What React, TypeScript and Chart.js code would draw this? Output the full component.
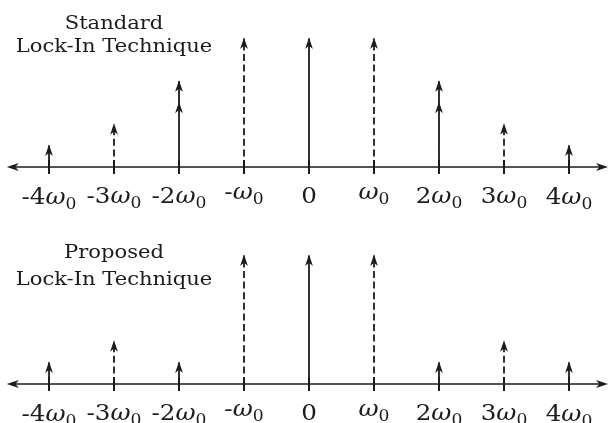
import { useEffect, useRef } from 'react';
import { Chart, registerables } from 'chart.js';

Chart.register(...registerables);

// Harmonic positions (multiples of ω0) and their axis labels
const frequencies = [-4, -3, -2, -1, 0, 1, 2, 3, 4];
const tickLabels = ['-4ω0', '-3ω0', '-2ω0', '-ω0', '0', 'ω0', '2ω0', '3ω0', '4ω0'];
// odd harmonics are drawn with dashed stems
const dashedHarmonic = [false, true, false, true, false, true, false, true, false];

// Impulse amplitudes, standard lock-in (±2ω0 carries two stacked components)
const standardAmplitudes = [1, 2, 4, 6, 6, 6, 4, 2, 1];
const standardInnerAmplitudes = [0, 0, 3, 0, 0, 0, 3, 0, 0];
// Impulse amplitudes, proposed lock-in
const proposedAmplitudes = [1, 2, 1, 6, 6, 6, 1, 2, 1];

const standardTitle = ['Standard', 'Lock-In Technique'];
const proposedTitle = ['Proposed', 'Lock-In Technique'];

const INK = '#1c1c1c';
const SERIF = '"DejaVu Serif", "Liberation Serif", serif';
const TITLE_STRETCH = 1.17;
const LABEL_STRETCH = 1.07;

type PanelSpec = {
  amplitudes: number[];
  innerAmplitudes?: number[];
  title: string[];
  titleBaselines: number[]; // pixels above the axis
  height: number;
  padTop: number;
  padBottom: number;
};

function stemPoints(amps: number[], dashed: boolean) {
  const pts: { x: number; y: number | null }[] = [];
  frequencies.forEach((f, i) => {
    if (dashedHarmonic[i] !== dashed || !amps[i]) return;
    pts.push({ x: f, y: 0 }, { x: f, y: amps[i] }, { x: f, y: null });
  });
  return pts;
}

function tipPoints(amps: number[]) {
  return frequencies
    .map((f, i) => ({ x: f, y: amps[i] }))
    .filter((p) => p.y > 0);
}

function arrowHead(ctx: CanvasRenderingContext2D, x: number, y: number, angle: number, len = 11.5, half = 3.9) {
  ctx.save();
  ctx.translate(x, y);
  ctx.rotate(angle);
  ctx.beginPath();
  ctx.moveTo(0, 0);
  ctx.lineTo(-len, -half);
  ctx.lineTo(-len * 0.72, 0);
  ctx.lineTo(-len, half);
  ctx.closePath();
  ctx.fill();
  ctx.restore();
}

function drawTickLabel(ctx: CanvasRenderingContext2D, label: string, cx: number, top: number) {
  const size = 23;
  const subSize = 16;
  const upright = `${size}px ${SERIF}`;
  const italic = `italic ${size}px ${SERIF}`;
  const subFont = `${subSize}px ${SERIF}`;
  const k = label.indexOf('ω');
  const prefix = k < 0 ? label : label.slice(0, k);
  const sub = k < 0 ? '' : label.slice(k + 1);

  ctx.font = upright;
  const wPre = prefix ? ctx.measureText(prefix).width : 0;
  let ascent = prefix && /[0-9]/.test(prefix) ? ctx.measureText(prefix).actualBoundingBoxAscent : 0;
  let wOm = 0;
  let wSub = 0;
  if (k >= 0) {
    ctx.font = italic;
    const mOm = ctx.measureText('ω');
    wOm = mOm.width;
    ascent = Math.max(ascent, mOm.actualBoundingBoxAscent);
    ctx.font = subFont;
    wSub = ctx.measureText(sub).width;
  }
  const total = (wPre + wOm + wSub) * LABEL_STRETCH;
  const baseline = top + ascent;

  ctx.save();
  ctx.translate(cx - total / 2, 0);
  ctx.scale(LABEL_STRETCH, 1);
  ctx.textAlign = 'left';
  ctx.textBaseline = 'alphabetic';
  ctx.fillStyle = INK;
  let x = 0;
  if (prefix) {
    ctx.font = upright;
    ctx.fillText(prefix, x, baseline);
    x += wPre;
  }
  if (k >= 0) {
    ctx.font = italic;
    ctx.fillText('ω', x, baseline);
    x += wOm;
    ctx.font = subFont;
    ctx.fillText(sub, x, baseline + 5);
  }
  ctx.restore();
}

function makePlugin(spec: PanelSpec) {
  return {
    id: 'spectrumDecor',
    beforeDatasetsDraw(chart: Chart) {
      const { ctx } = chart;
      const xs = chart.scales.x;
      const y0 = chart.scales.y.getPixelForValue(0);
      ctx.save();
      ctx.strokeStyle = INK;
      ctx.fillStyle = INK;
      ctx.lineWidth = 1.7;
      const left = xs.getPixelForValue(-4.65);
      const right = xs.getPixelForValue(4.6);
      ctx.beginPath();
      ctx.moveTo(left + 4, y0);
      ctx.lineTo(right - 4, y0);
      ctx.stroke();
      arrowHead(ctx, left, y0, Math.PI, 12, 4);
      arrowHead(ctx, right, y0, 0, 12, 4);
      ctx.lineWidth = 2;
      frequencies.forEach((f) => {
        const x = xs.getPixelForValue(f);
        ctx.beginPath();
        ctx.moveTo(x, y0 - 7);
        ctx.lineTo(x, y0 + 7);
        ctx.stroke();
      });
      ctx.restore();
    },
    afterDatasetsDraw(chart: Chart) {
      const { ctx } = chart;
      const xs = chart.scales.x;
      const y0 = chart.scales.y.getPixelForValue(0);
      ctx.save();
      ctx.fillStyle = INK;
      chart.data.datasets.forEach((ds: any, di: number) => {
        if (!ds.arrowTips) return;
        const meta = chart.getDatasetMeta(di);
        meta.data.forEach((el: any) => arrowHead(ctx, el.x, el.y - 1, -Math.PI / 2));
      });

      frequencies.forEach((f, i) => drawTickLabel(ctx, tickLabels[i], xs.getPixelForValue(f), y0 + 20));

      const cx = xs.getPixelForValue(-3);
      ctx.font = `18px ${SERIF}`;
      ctx.textAlign = 'center';
      ctx.textBaseline = 'alphabetic';
      spec.title.forEach((line, i) => {
        ctx.save();
        ctx.translate(cx, y0 - spec.titleBaselines[i]);
        ctx.scale(TITLE_STRETCH, 1);
        ctx.fillText(line, 0, 0);
        ctx.restore();
      });
      ctx.restore();
    },
  };
}

function SpectrumPanel({ spec }: { spec: PanelSpec }) {
  const ref = useRef<HTMLCanvasElement>(null);
  useEffect(() => {
    if (!ref.current) return;
    const stemStyle = {
      type: 'line' as const,
      borderColor: INK,
      borderWidth: 1.8,
      pointRadius: 0,
      spanGaps: false,
      tension: 0,
      borderCapStyle: 'butt' as const,
    };
    const datasets: any[] = [
      { ...stemStyle, label: 'solid', data: stemPoints(spec.amplitudes, false) },
      { ...stemStyle, label: 'dashed', data: stemPoints(spec.amplitudes, true), borderDash: [7, 3.6] },
      { ...stemStyle, label: 'tips', data: tipPoints(spec.amplitudes), showLine: false, arrowTips: true },
    ];
    if (spec.innerAmplitudes) {
      datasets.push({ ...stemStyle, label: 'inner tips', data: tipPoints(spec.innerAmplitudes), showLine: false, arrowTips: true });
    }
    const chart = new Chart(ref.current, {
      type: 'line',
      data: { datasets },
      options: {
        animation: false,
        responsive: false,
        events: [],
        layout: { padding: { top: spec.padTop, bottom: spec.padBottom, left: 0, right: 0 } },
        scales: {
          x: { type: 'linear', min: -4.754, max: 4.6, display: false },
          y: { type: 'linear', min: 0, max: 7.8, display: false },
        },
        plugins: { legend: { display: false }, tooltip: { enabled: false }, title: { display: false } },
      },
      plugins: [makePlugin(spec)],
    });
    document.fonts?.ready.then(() => chart.draw());
    return () => chart.destroy();
  }, [spec]);
  return <canvas ref={ref} width={608} height={spec.height} style={{ display: 'block' }} />;
}

const standardPanel: PanelSpec = {
  amplitudes: standardAmplitudes,
  innerAmplitudes: standardInnerAmplitudes,
  title: standardTitle,
  titleBaselines: [138, 115],
  height: 211,
  padTop: 0,
  padBottom: 44,
};

const proposedPanel: PanelSpec = {
  amplitudes: proposedAmplitudes,
  title: proposedTitle,
  titleBaselines: [126, 99],
  height: 212,
  padTop: 6,
  padBottom: 39,
};

export default function App() {
  return (
    <div style={{ position: 'absolute', left: 0, top: 0, width: 608, height: 423, background: '#fff' }}>
      <SpectrumPanel spec={standardPanel} />
      <SpectrumPanel spec={proposedPanel} />
    </div>
  );
}
